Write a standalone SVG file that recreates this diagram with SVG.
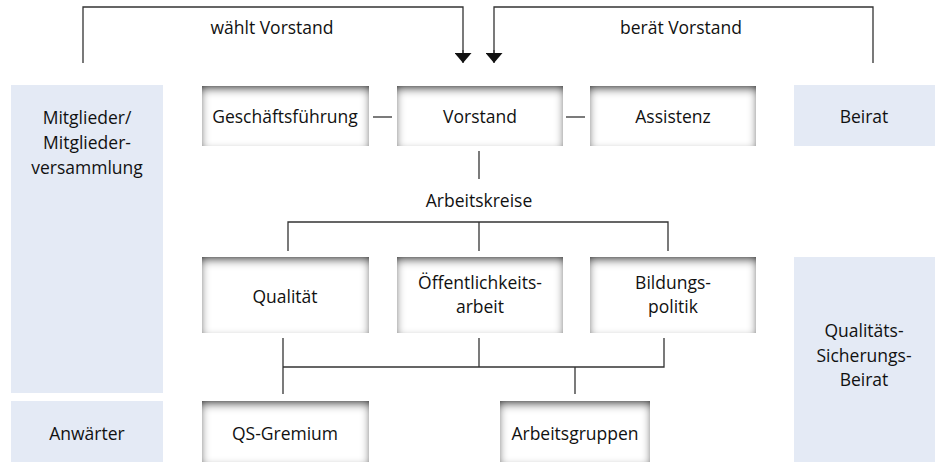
<svg xmlns="http://www.w3.org/2000/svg" width="935" height="462" viewBox="0 0 935 462">
  <defs>
    <filter id="inset" x="-10%" y="-25%" width="120%" height="150%">
      <feFlood flood-color="#1e1e1e" result="f"/>
      <feComposite in="f" in2="SourceAlpha" operator="out" result="outside"/>
      <feGaussianBlur in="outside" stdDeviation="4.5" result="blur"/>
      <feOffset in="blur" dy="3.5" result="off"/>
      <feComposite in="off" in2="SourceAlpha" operator="in" result="inner"/>
      <feMerge><feMergeNode in="SourceGraphic"/><feMergeNode in="inner"/></feMerge>
    </filter>
    <marker id="arr" viewBox="0 0 10 17" refX="10" refY="8.5" markerWidth="10" markerHeight="17" markerUnits="userSpaceOnUse" orient="auto">
      <path d="M0,0 L10,8.5 L0,17 Z" fill="#111"/>
    </marker>
  </defs>
  <style>
    text { font-family: "Open Sans", "Liberation Sans", sans-serif; font-size: 17.5px; fill: #111; text-anchor: middle; }
    .box { fill: #ffffff; filter: url(#inset); }
    .side { fill: #e4eaf5; }
    .ln { fill: none; stroke: #333; stroke-width: 1.3; }
  </style>

  <rect width="935" height="462" fill="#ffffff"/>

  <g id="connectors">
    <polyline class="ln" points="83,63 83,7 463,7 463,54"/>
    <line class="ln" x1="463" y1="50" x2="463" y2="63" marker-end="url(#arr)"/>
    <polyline class="ln" points="873,63 873,7 494,7 494,54"/>
    <line class="ln" x1="494" y1="50" x2="494" y2="63" marker-end="url(#arr)"/>
    <line class="ln" x1="373" y1="117" x2="392" y2="117"/>
    <line class="ln" x1="566" y1="117" x2="585" y2="117"/>
    <line class="ln" x1="479" y1="151" x2="479" y2="179"/>
    <polyline class="ln" points="288,251 288,222 668,222 668,251"/>
    <line class="ln" x1="479" y1="222" x2="479" y2="251"/>
    <line class="ln" x1="283" y1="338" x2="283" y2="394"/>
    <polyline class="ln" points="283,367 664,367 664,338"/>
    <line class="ln" x1="479" y1="338" x2="479" y2="367"/>
    <line class="ln" x1="575" y1="367" x2="575" y2="394"/>
    <text x="272" y="34">wählt Vorstand</text>
    <text x="681" y="34">berät Vorstand</text>
    <text x="479" y="207">Arbeitskreise</text>
  </g>

  <g id="mitglieder">
    <rect class="side" x="11" y="85" width="152" height="308"/>
    <text x="87" y="124">Mitglieder/</text>
    <text x="87" y="149">Mitglieder-</text>
    <text x="87" y="174">versammlung</text>
  </g>
  <g id="anwaerter">
    <rect class="side" x="11" y="401" width="152" height="61"/>
    <text x="87" y="440">Anwärter</text>
  </g>
  <g id="beirat">
    <rect class="side" x="794" y="85" width="141" height="61"/>
    <text x="864" y="123">Beirat</text>
  </g>
  <g id="qs-beirat">
    <rect class="side" x="794" y="257" width="141" height="205"/>
    <text x="864" y="337">Qualitäts-</text>
    <text x="864" y="362">Sicherungs-</text>
    <text x="864" y="386">Beirat</text>
  </g>

  <g id="geschaeftsfuehrung">
    <rect class="box" x="202" y="86" width="167" height="60"/>
    <text x="285" y="123">Geschäftsführung</text>
  </g>
  <g id="vorstand">
    <rect class="box" x="397" y="86" width="166" height="60"/>
    <text x="480" y="123">Vorstand</text>
  </g>
  <g id="assistenz">
    <rect class="box" x="590" y="86" width="166" height="60"/>
    <text x="673" y="123">Assistenz</text>
  </g>

  <g id="qualitaet">
    <rect class="box" x="202" y="257" width="167" height="76"/>
    <text x="285" y="303">Qualität</text>
  </g>
  <g id="oeffentlichkeitsarbeit">
    <rect class="box" x="397" y="257" width="166" height="76"/>
    <text x="480" y="289">Öffentlichkeits-</text>
    <text x="480" y="313">arbeit</text>
  </g>
  <g id="bildungspolitik">
    <rect class="box" x="590" y="257" width="166" height="76"/>
    <text x="673" y="289">Bildungs-</text>
    <text x="673" y="313">politik</text>
  </g>

  <g id="qs-gremium">
    <rect class="box" x="202" y="401" width="167" height="61"/>
    <text x="285" y="440">QS-Gremium</text>
  </g>
  <g id="arbeitsgruppen">
    <rect class="box" x="500" y="401" width="150" height="61"/>
    <text x="575" y="440">Arbeitsgruppen</text>
  </g>
</svg>
